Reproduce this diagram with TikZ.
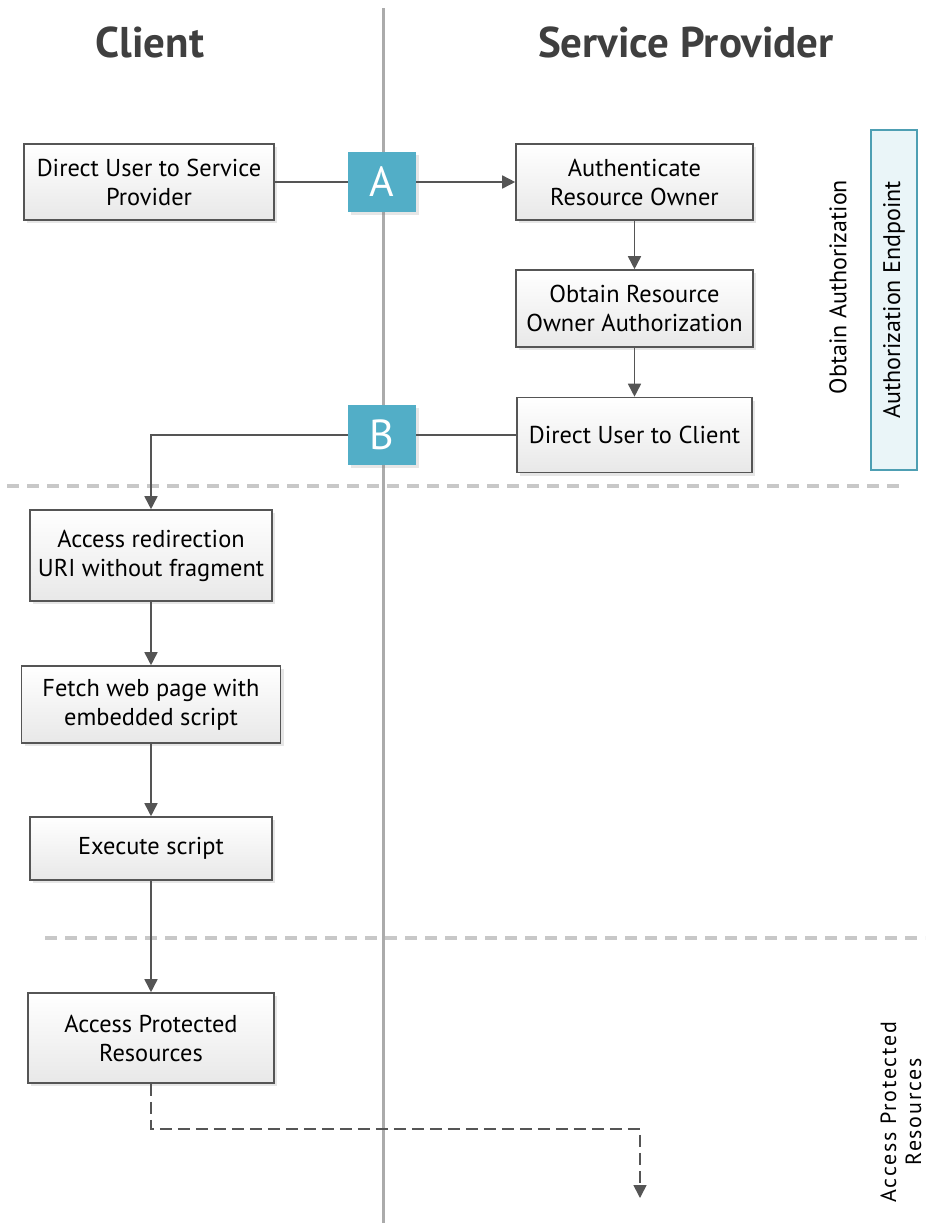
\documentclass[tikz,border=0pt]{standalone}
\usepackage{fontspec}
\setmainfont{PT Sans}
\usetikzlibrary{arrows.meta,shadows}

\definecolor{linegray}{HTML}{555555}
\definecolor{titlegray}{HTML}{3F3F3F}
\definecolor{lanegray}{HTML}{C8C8C8}
\definecolor{axisgray}{HTML}{ABABAB}
\definecolor{badgeblue}{HTML}{52AEC7}
\definecolor{endpointfill}{HTML}{EAF5F8}
\definecolor{endpointdraw}{HTML}{4E9FB3}

\tikzset{
  stepbox/.style={draw=linegray, line width=0.8pt, top color=white, bottom color=black!9,
    align=center, font=\fontsize{12.2}{14.5}\selectfont, inner sep=2pt,
    drop shadow={opacity=0.2, shadow xshift=1.5pt, shadow yshift=-1.5pt}},
  badge/.style={fill=badgeblue, text=white, minimum width=34pt, minimum height=30pt,
    font=\fontsize{21}{21}\selectfont,
    drop shadow={opacity=0.2, shadow xshift=1.5pt, shadow yshift=-1.5pt}},
  lanetitle/.style={text=titlegray, font=\fontsize{21.5}{21.5}\selectfont\bfseries},
  flow/.style={draw=linegray, line width=0.8pt, -{Triangle[length=6.5pt,width=6.5pt]}},
  lane/.style={draw=lanegray, line width=2pt, dash pattern=on 6pt off 4pt},
  phase/.style={rotate=90, align=center, font=\fontsize{12}{13}\selectfont}
}

\begin{document}
\begin{tikzpicture}[x=0.5pt, y=-0.5pt]
\useasboundingbox (0,0) rectangle (932,1223);

% swim lanes
\draw[axisgray, line width=1.5pt] (383,8) -- (383,1223);
\draw[lane] (7,486) -- (905,486);
\draw[lane] (45,938) -- (925,938);

\node[lanetitle] at (150,42) (client) {Client};
\node[lanetitle] at (686,42) (provider) {Service Provider};

% steps
\node[stepbox, minimum width=125pt, minimum height=38pt] at (149,182) (direct) {Direct User to Service\\Provider};
\node[stepbox, minimum width=118.5pt, minimum height=38pt] at (634.5,182) (authn) {Authenticate\\Resource Owner};
\node[stepbox, minimum width=118.5pt, minimum height=38.5pt] at (634.5,308.5) (authz) {Obtain Resource\\Owner Authorization};
\node[stepbox, minimum width=117.5pt, minimum height=37.5pt] at (634.5,435) (back) {Direct User to Client};
\node[stepbox, minimum width=121pt, minimum height=45.5pt] at (151,555.5) (redir) {Access redirection\\URI without fragment};
\node[stepbox, minimum width=129.5pt, minimum height=38.5pt] at (151,704.5) (fetch) {Fetch web page with\\embedded script};
\node[stepbox, minimum width=121pt, minimum height=31.5pt] at (151,848.5) (exec) {Execute script};
\node[stepbox, minimum width=123pt, minimum height=45pt] at (151,1038) (access) {Access Protected\\Resources};

\node[badge] at (382,182) (a) {A};
\node[badge] at (382,435) (b) {B};

% phases
\node[phase] at (838,287) (obtain) {Obtain Authorization};
\node[draw=endpointdraw, fill=endpointfill, line width=0.8pt, rotate=90,
  minimum width=170pt, minimum height=23pt, font=\fontsize{12}{13}\selectfont] at (894,300) (endpoint) {Authorization Endpoint};
\node[phase, font=\fontsize{11}{12.5}\selectfont\addfontfeature{LetterSpace=8}] at (901,1112) (protected) {Access Protected\\Resources};

% connectors
\draw[draw=linegray, line width=0.8pt] (direct) -- (a);
\draw[flow] (a) -- (authn);
\draw[flow] (authn) -- (authz);
\draw[flow] (authz) -- (back);
\draw[draw=linegray, line width=0.8pt] (back) -- (b);
\draw[flow] (b.west) -| (redir.north);
\draw[flow] (redir) -- (fetch);
\draw[flow] (fetch) -- (exec);
\draw[flow] (exec) -- (access);
\coordinate (out) at (640,1198);
\draw[flow, dash pattern=on 6pt off 3pt] (access.south) |- (640,1129) -- (out);

\end{tikzpicture}
\end{document}
